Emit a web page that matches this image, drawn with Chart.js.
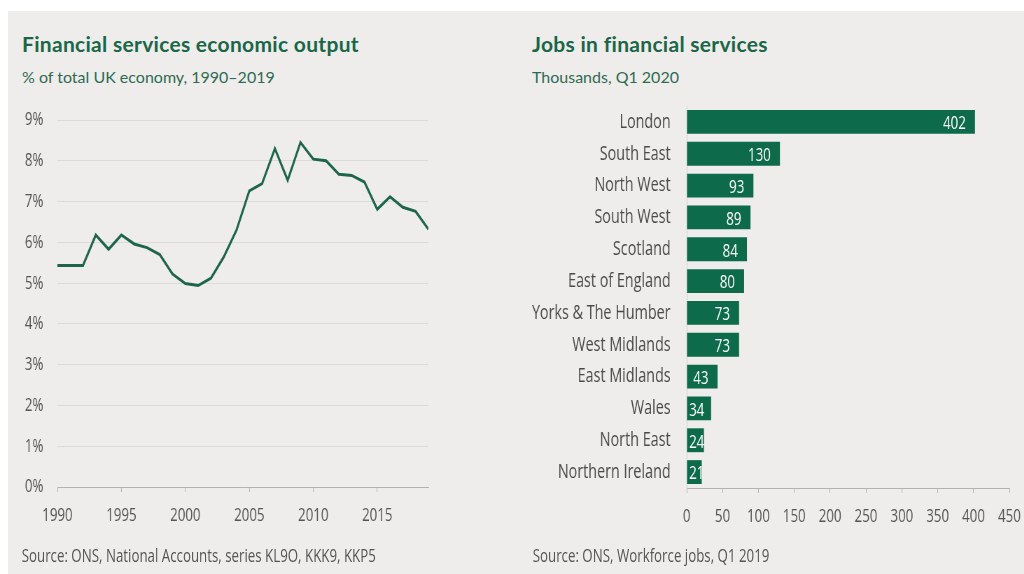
<!DOCTYPE html>
<html>
<head>
<meta charset="utf-8">
<script src="https://cdn.jsdelivr.net/npm/chart.js@4.4.1/dist/chart.umd.min.js"></script>
<style>
  html, body { margin: 0; padding: 0; background: #ffffff; }
  body { width: 1024px; height: 574px; position: relative; overflow: hidden; }
  .panel { position: absolute; left: 8px; top: 11px; width: 1016px; height: 563px; background: #eeedeb; }
  .title { position: absolute; font-family: Lato; font-weight: 700; font-size: 21px; letter-spacing: 0.3px; line-height: 1; color: #1b6647; white-space: nowrap; }
  .sub { position: absolute; font-family: Lato; font-size: 16px; line-height: 1; color: #2e6b52; white-space: nowrap; }
  /* charts are drawn wide and squeezed horizontally */
  .squeeze { position: absolute; left: 0; top: 0; width: 1463px; height: 574px; transform: scaleX(0.7); transform-origin: 0 0; }
  .squeeze canvas { position: absolute; }
  .source { position: absolute; font-family: 'Open Sans'; font-size: 19px; line-height: 1; color: #555555; white-space: nowrap; }
</style>
</head>
<body>
<div class="panel"></div>

<div class="title" style="left:22px; top:33px;">Financial services economic output</div>
<div class="sub" style="left:22px; top:69px;">% of total UK economy, 1990–2019</div>
<div class="title" style="left:532px; top:33px;">Jobs in financial services</div>
<div class="sub" style="left:532px; top:69px;">Thousands, Q1 2020</div>

<div class="squeeze">
  <canvas id="output-chart" width="686" height="460" style="left:0; top:80px;"></canvas>
  <canvas id="jobs-chart" width="796" height="474" style="left:686px; top:66px;"></canvas>
  <div class="source" style="left:31px; top:546px;">Source: ONS, National Accounts, series KL9O, KKK9, KKP5</div>
  <div class="source" style="left:761px; top:546px;">Source: ONS, Workforce jobs, Q1 2019</div>
</div>

<script>
// Financial services output, % of UK economy
const years = [1990, 1991, 1992, 1993, 1994, 1995, 1996, 1997, 1998, 1999,
               2000, 2001, 2002, 2003, 2004, 2005, 2006, 2007, 2008, 2009,
               2010, 2011, 2012, 2013, 2014, 2015, 2016, 2017, 2018, 2019];
const outputShare = [5.43, 5.43, 5.43, 6.18, 5.83, 6.18, 5.96, 5.87, 5.70, 5.22,
                     4.99, 4.94, 5.12, 5.64, 6.30, 7.26, 7.44, 8.30, 7.52, 8.45,
                     8.04, 8.00, 7.67, 7.64, 7.48, 6.81, 7.12, 6.86, 6.76, 6.32];
const yearTicks = [1990, 1995, 2000, 2005, 2010, 2015];
const shareTicks = [0, 1, 2, 3, 4, 5, 6, 7, 8, 9];

// Jobs by region, thousands
const regions = ['London', 'South East', 'North West', 'South West', 'Scotland',
                 'East of England', 'Yorks & The Humber', 'West Midlands',
                 'East Midlands', 'Wales', 'North East', 'Northern Ireland'];
const jobs = [402, 130, 93, 89, 84, 80, 73, 73, 43, 34, 24, 21];
const jobTicks = [0, 50, 100, 150, 200, 250, 300, 350, 400, 450];

const GREEN = '#0d6a4a';
const LINE_GREEN = '#1d654a';
const TEXT_GREY = '#555555';
const GRID = '#dbdbd9';
const AXIS = '#b3b3b3';

Chart.defaults.font.family = "'Open Sans'";
Chart.defaults.color = TEXT_GREY;
Chart.defaults.animation = false;

function setTicks(values) {
    return function(scale) {
        scale.ticks = values.map(v => ({ value: v }));
    };
}

new Chart(document.getElementById('output-chart').getContext('2d'), {
    type: 'line',
    data: {
        datasets: [{
            data: years.map((y, i) => ({ x: y, y: outputShare[i] })),
            borderColor: LINE_GREEN,
            borderWidth: 3,
            pointRadius: 0,
            tension: 0,
            fill: false
        }]
    },
    options: {
        responsive: false,
        devicePixelRatio: 1,
        layout: { padding: { left: 0, top: 40, right: 74, bottom: 0 } },
        plugins: { legend: { display: false }, tooltip: { enabled: false } },
        scales: {
            x: {
                type: 'linear',
                min: 1990,
                max: 2019,
                afterBuildTicks: setTicks(yearTicks),
                afterFit: s => { s.height = 53; },
                grid: { drawOnChartArea: false, color: AXIS, tickLength: 5 },
                border: { color: AXIS, width: 1 },
                ticks: { font: { size: 19 }, padding: 12, maxRotation: 0, callback: v => String(v) }
            },
            y: {
                min: 0,
                max: 9,
                afterBuildTicks: setTicks(shareTicks),
                afterFit: s => { s.width = 82; },
                grid: { color: GRID, drawTicks: false },
                border: { display: false },
                ticks: { font: { size: 19 }, padding: 20, callback: v => v + '%' }
            }
        }
    }
});

// value labels drawn inside the end of each bar
const barValueLabels = {
    id: 'barValueLabels',
    afterDatasetsDraw(chart) {
        const ctx = chart.ctx;
        const meta = chart.getDatasetMeta(0);
        ctx.save();
        ctx.font = "19px 'Open Sans'";
        ctx.fillStyle = '#ffffff';
        ctx.textAlign = 'right';
        ctx.textBaseline = 'middle';
        meta.data.forEach((bar, i) => {
            const text = String(jobs[i]);
            const w = ctx.measureText(text).width;
            const right = Math.max(bar.x - 13, bar.base + w + 3);
            ctx.fillText(text, right, bar.y + 2);
        });
        ctx.restore();
    }
};

new Chart(document.getElementById('jobs-chart').getContext('2d'), {
    type: 'bar',
    data: {
        labels: regions,
        datasets: [{
            data: jobs,
            backgroundColor: GREEN,
            borderWidth: 0,
            categoryPercentage: 1,
            barPercentage: 0.75
        }]
    },
    options: {
        indexAxis: 'y',
        responsive: false,
        devicePixelRatio: 1,
        layout: { padding: { left: 0, top: 40, right: 40, bottom: 0 } },
        plugins: { legend: { display: false }, tooltip: { enabled: false } },
        scales: {
            x: {
                min: 0,
                max: 450,
                afterBuildTicks: setTicks(jobTicks),
                afterFit: s => { s.height = 52; },
                grid: { drawOnChartArea: false, color: AXIS, tickLength: 5 },
                border: { color: AXIS, width: 1 },
                ticks: { font: { size: 19 }, padding: 12, maxRotation: 0 }
            },
            y: {
                afterFit: s => { s.width = 295; },
                grid: { display: false },
                border: { color: '#cfcfcf', width: 1 },
                ticks: { font: { size: 20.5 }, color: '#4a4a4a', padding: 15 }
            }
        }
    },
    plugins: [barValueLabels]
});
</script>
</body>
</html>
